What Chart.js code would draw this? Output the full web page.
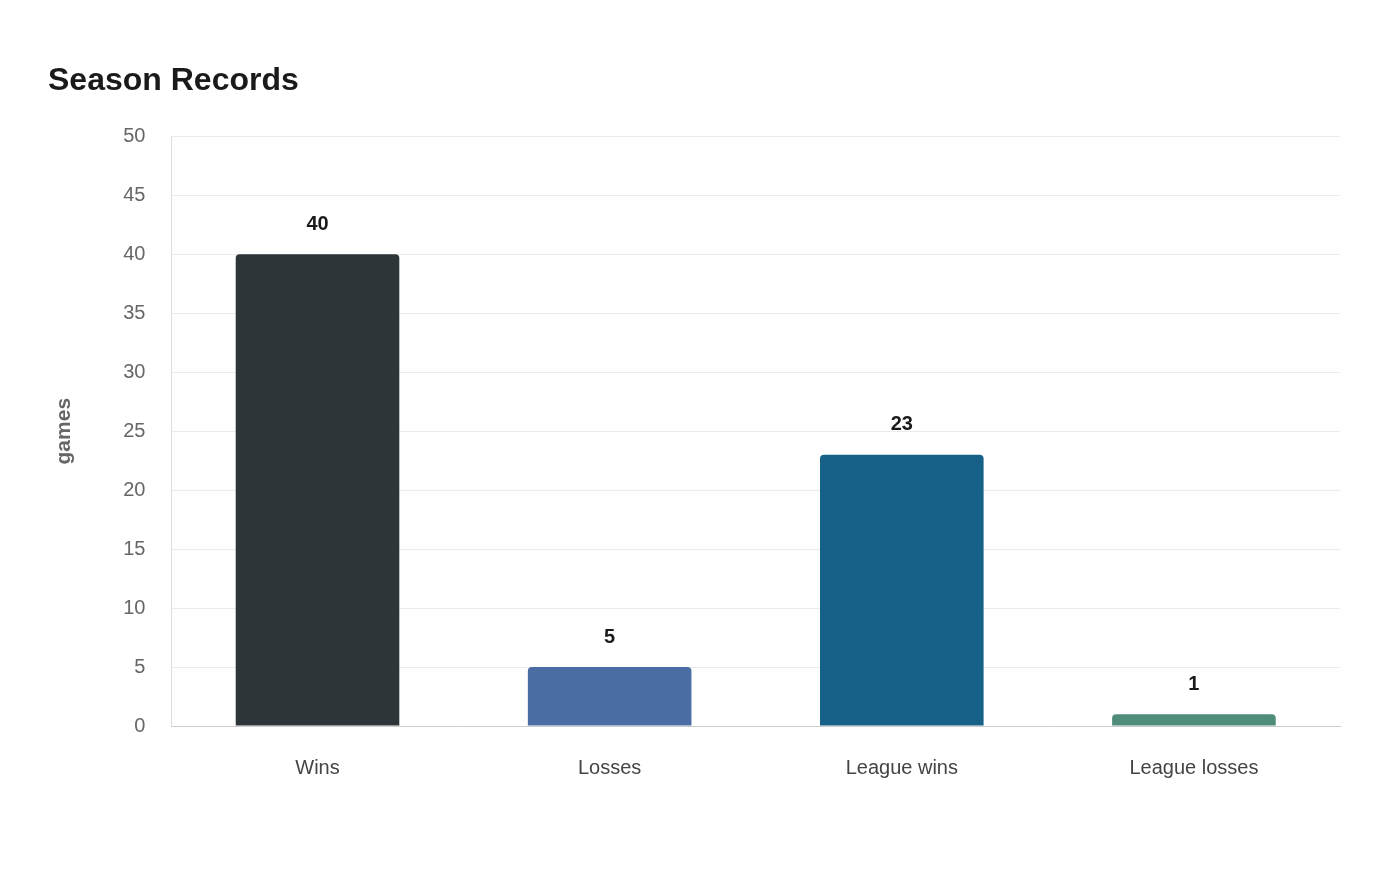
<!DOCTYPE html>
<html><head><meta charset="utf-8">
<script src="https://cdn.jsdelivr.net/npm/chart.js@4"></script>
<style>html,body{margin:0;padding:0;background:#fff}#w{width:1400px;height:880px}</style>
</head><body><div id="w"><canvas id="c"></canvas></div>
<script>
const categories = ["Wins","Losses","League wins","League losses"];
const values = [40,5,23,1];
const colors = ["#2e3538","#4a6ea3","#176189","#4f8c7a"];
const yTicks = [0,5,10,15,20,25,30,35,40,45,50];

const labelPlugin = {
  id:'vl',
  afterDatasetsDraw(chart){
    const ctx=chart.ctx;
    chart.getDatasetMeta(0).data.forEach((b,i)=>{
      ctx.save();
      ctx.font='bold 20px "Liberation Sans", Arial, sans-serif';
      ctx.fillStyle='#1a1a1a';ctx.textAlign='center';ctx.textBaseline='middle';
      ctx.fillText(String(values[i]), b.x, b.y-30);
      ctx.restore();
    });
  }
};
new Chart(document.getElementById('c'),{
  type:'bar',
  data:{labels:categories,datasets:[{data:values,backgroundColor:colors,borderRadius:{topLeft:4,topRight:4},borderSkipped:'bottom',barPercentage:0.56,categoryPercentage:1}]},
  options:{
    responsive:true,maintainAspectRatio:false,animation:false,
    layout:{padding:{left:48,right:60,top:62,bottom:70}},
    plugins:{legend:{display:false},tooltip:{enabled:false},
      title:{display:true,text:'Season Records',align:'start',color:'#1a1a1a',
        font:{size:32,weight:'bold',family:'"Liberation Sans", Arial, sans-serif'},padding:{top:0,bottom:36}}},
    scales:{
      y:{min:0,max:50,afterBuildTicks(s){s.ticks=yTicks.map(v=>({value:v}));},
        ticks:{color:'#666',font:{size:20,family:'"Liberation Sans", Arial, sans-serif'},padding:26},
        grid:{color:'#ebebeb',drawTicks:false},border:{color:'#ddd'},
        title:{display:true,text:'games',color:'#666',font:{size:21,weight:'bold',family:'"Liberation Sans", Arial, sans-serif'},padding:{bottom:20}}},
      x:{ticks:{color:'#444',font:{size:20,family:'"Liberation Sans", Arial, sans-serif'},padding:30},
        grid:{display:false,drawTicks:false},border:{color:'#ccc'}}
    }
  },
  plugins:[labelPlugin]
});
</script></body></html>
